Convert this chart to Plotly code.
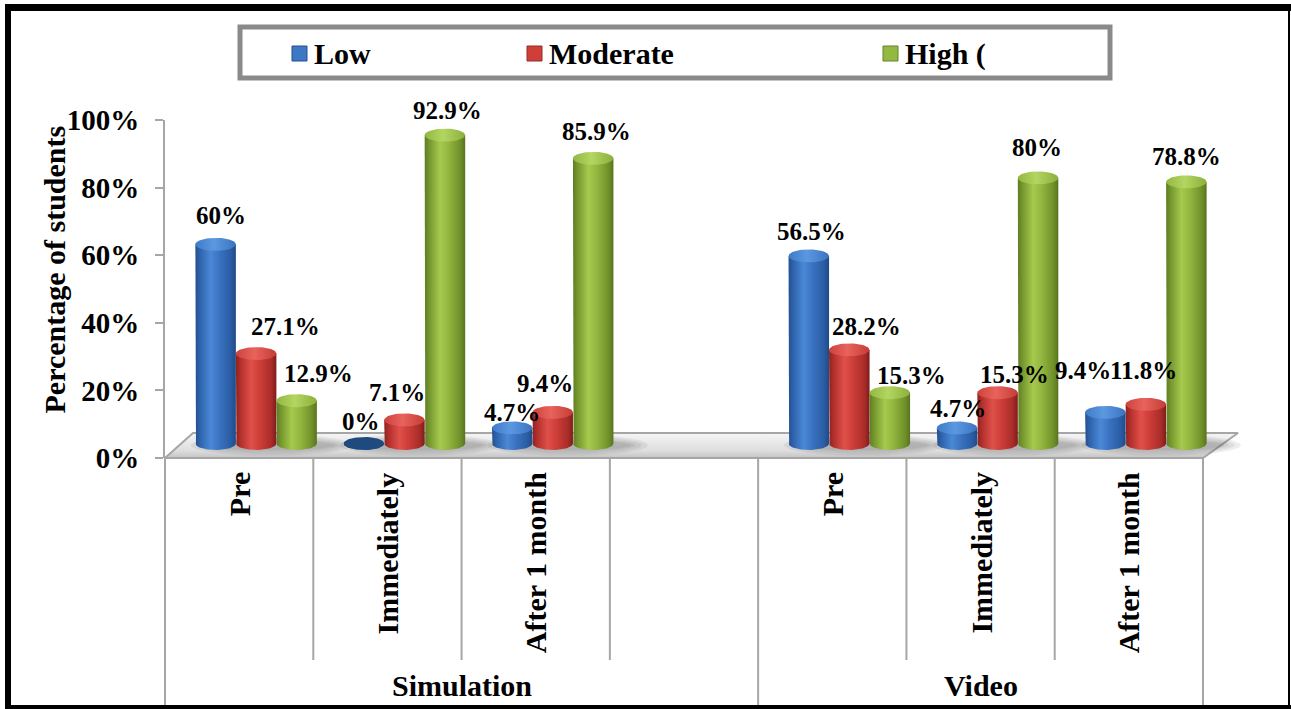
import numpy as np
import plotly.graph_objects as go

W, H = 1291, 709

# ---- data -------------------------------------------------------------
groups = ["Simulation", "Video"]
times = ["Pre", "Immediately", "After 1 month"]
series_names = ["Low", "Moderate", "High ("]
low = [60, 0, 4.7, 56.5, 4.7, 9.4]
moderate = [27.1, 7.1, 9.4, 28.2, 15.3, 11.8]
high = [12.9, 92.9, 85.9, 15.3, 80, 78.8]
y_ticks = [0, 20, 40, 60, 80, 100]
y_title = "Percentage of students"

# Simulation carries one empty category slot after its three time points
group_slots = {"Simulation": times + [""], "Video": times}
slots = [(g, t) for g in groups for t in group_slots[g]]
bar_slots = [i for i, (g, t) in enumerate(slots) if t]
n_slots = len(slots)

# ---- geometry (pixels) ------------------------------------------------
FRONT_X0, FRONT_X1 = 165, 1203          # front edge of the floor
SLOT = (FRONT_X1 - FRONT_X0) / n_slots
FRONT_Y0, FRONT_PER = 458, 3.38          # front plane: 0% row, px per %
BAR_X0, BAR_Y0, BAR_PER = 182, 443.5, 3.32  # plane the cylinders stand on
BAR_W = 40.5 / SLOT                      # cylinder width in slot units
ELL_B = 6.5 / BAR_PER                    # ellipse half height in %
FLOOR_BACK = 25 / FRONT_PER
FLOOR_DX_L, FLOOR_DX_R = 28 / SLOT, 35 / SLOT

FONT = "Liberation Serif, Times New Roman, serif"

body_scales = [
    [[0, "#23508f"], [0.12, "#2f64ad"], [0.38, "#4a88d6"], [0.6, "#3a72c0"], [0.88, "#2a5ca3"], [1, "#1f4a86"]],
    [[0, "#8e2220"], [0.12, "#b3302d"], [0.38, "#e0504a"], [0.6, "#cc3d38"], [0.88, "#a82c29"], [1, "#7e1c1a"]],
    [[0, "#5f7d23"], [0.12, "#76982e"], [0.38, "#a6c94e"], [0.6, "#91b53e"], [0.88, "#6f9029"], [1, "#587420"]],
]
top_scales = [
    [[0, "#3f7cc8"], [0.45, "#5c98e0"], [1, "#3a74c0"]],
    [[0, "#cf423d"], [0.45, "#e8635c"], [1, "#c63c37"]],
    [[0, "#93b842"], [0.45, "#b3d561"], [1, "#8cb03c"]],
]
flat_top = ["#1f4a7d", "#8e2220", "#5f7d23"]
legend_fill = ["#3d78c4", "#cf3f3a", "#94b940"]
legend_edge = ["#24508c", "#9a2a27", "#64832a"]

# pixel offsets of each value label from the top of its cylinder
label_dx = [[5, -3, 0, 3, 1, -22], [29, -7, -8, 17, 17, -2], [22, 3, 3, 22, -1, 0]]
label_dy = [[-29, -22, -15, -24, -19, -42], [-27, -27, -29, -23, -18, -34], [-27, -25, -27, -17, -30, -25]]


def px_x(p):
    return p / W


def px_y(p):
    return 1 - p / H


fig = go.Figure()

# ---- floor (front plane axes x/y) -------------------------------------
fig.add_trace(go.Scatter(
    x=[0, FLOOR_DX_L, n_slots + FLOOR_DX_R, n_slots, 0],
    y=[0, FLOOR_BACK, FLOOR_BACK, 0, 0],
    mode="lines", fill="toself",
    fillgradient=dict(type="vertical", colorscale=[[0, "#c4c4c4"], [0.3, "#dedede"], [1, "#f5f5f5"]]),
    line=dict(color="#a6a6a6", width=2),
    hoverinfo="skip", showlegend=False,
))

# category dividers below the floor
div_x, div_y = [], []
for u in range(n_slots + 1):
    if 0 < u < n_slots:
        boundary = slots[u - 1][0] != slots[u][0]
    else:
        boundary = True
    bottom = (FRONT_Y0 - (H + 5)) / FRONT_PER if boundary else (FRONT_Y0 - 660) / FRONT_PER
    div_x += [u, u, None]
    div_y += [0, bottom, None]
fig.add_trace(go.Scatter(x=div_x, y=div_y, mode="lines",
                         line=dict(color="#a6a6a6", width=2),
                         hoverinfo="skip", showlegend=False))

# ---- cylinders (bar plane axes x2/y2) ---------------------------------
values = [low, moderate, high]

# soft shadows on the floor around each group of cylinders
for s in bar_slots:
    cx = s + 0.5 + 0.1
    for ax, bx in [(0.54, 3.2), (0.5, 2.6), (0.46, 2.0), (0.43, 1.5)]:
        t = np.linspace(0, 2 * np.pi, 60)
        fig.add_trace(go.Scatter(
            x=cx + ax * np.cos(t), y=-0.5 + bx * np.sin(t),
            mode="lines", fill="toself", fillcolor="rgba(90,90,90,0.10)",
            line=dict(width=0), xaxis="x2", yaxis="y2",
            hoverinfo="skip", showlegend=False))

for si, vals in enumerate(values):
    for j, v in enumerate(vals):
        s = bar_slots[j]
        cx = s + 0.5 + (si - 1) * BAR_W
        a = BAR_W / 2
        t = np.linspace(np.pi, 2 * np.pi, 40)
        bx = [cx - a, *(cx + a * np.cos(t)), cx + a, cx - a]
        by = [v, *(ELL_B * np.sin(t)), v, v]
        fig.add_trace(go.Scatter(
            x=bx, y=by, mode="lines", fill="toself",
            fillgradient=dict(type="horizontal", colorscale=body_scales[si]),
            line=dict(width=0), xaxis="x2", yaxis="y2",
            hoverinfo="skip", showlegend=False))
        tt = np.linspace(0, 2 * np.pi, 60)
        top = dict(fillcolor=flat_top[si]) if v == 0 else dict(
            fillgradient=dict(type="horizontal", colorscale=top_scales[si]))
        fig.add_trace(go.Scatter(
            x=cx + a * np.cos(tt), y=v + ELL_B * np.sin(tt),
            mode="lines", fill="toself", line=dict(width=0),
            xaxis="x2", yaxis="y2", hoverinfo="skip", showlegend=False, **top))
        fig.add_annotation(
            x=cx, y=v, xref="x2", yref="y2",
            xshift=label_dx[si][j], yshift=-label_dy[si][j],
            text=f"{v:g}%", showarrow=False, xanchor="center", yanchor="middle",
            font=dict(family=FONT, size=25, color="black", weight="bold"))

# ---- value axis (x3/y3) -----------------------------------------------
fig.add_trace(go.Scatter(x=[0.5], y=[50], mode="markers", marker=dict(opacity=0),
                         xaxis="x3", yaxis="y3", hoverinfo="skip", showlegend=False))

# ---- category labels --------------------------------------------------
for u, (g, t) in enumerate(slots):
    if not t:
        continue
    fig.add_annotation(
        x=u + 0.5, y=(FRONT_Y0 - 470) / FRONT_PER, xref="x", yref="y",
        text=t, textangle=-90, showarrow=False, xanchor="center", yanchor="top",
        font=dict(family=FONT, size=30, color="black", weight="bold"))

start = 0
for g in groups:
    n = len(group_slots[g])
    fig.add_annotation(
        x=start + n / 2, y=(FRONT_Y0 - 685) / FRONT_PER, xref="x", yref="y",
        text=g, showarrow=False, xanchor="center", yanchor="middle",
        font=dict(family=FONT, size=30, color="black", weight="bold"))
    start += n

fig.add_annotation(
    x=px_x(35), y=px_y(270), xref="paper", yref="paper",
    text=y_title, textangle=-90, showarrow=False,
    font=dict(family=FONT, size=30, color="black", weight="bold"))

# ---- legend -----------------------------------------------------------
shapes = [dict(type="rect", xref="paper", yref="paper",
               x0=px_x(240), x1=px_x(1110), y0=px_y(78), y1=px_y(27),
               line=dict(color="#8a8a8a", width=5), fillcolor="white")]
legend_marker_x = [292, 527, 883]
for i, name in enumerate(series_names):
    mx = legend_marker_x[i]
    shapes.append(dict(type="rect", xref="paper", yref="paper",
                       x0=px_x(mx), x1=px_x(mx + 15), y0=px_y(61), y1=px_y(46),
                       line=dict(color=legend_edge[i], width=1), fillcolor=legend_fill[i]))
    fig.add_annotation(
        x=px_x(mx + 20), y=px_y(54), xref="paper", yref="paper",
        text=name, showarrow=False, xanchor="left", yanchor="middle",
        font=dict(family=FONT, size=30, color="black", weight="bold"))

# ---- outer frame ------------------------------------------------------
for x0, x1, y0, y1 in [(5, 11, 4, H), (5, W, 4, 11), (1288, 1290, 4, H), (5, W, 705, H)]:
    shapes.append(dict(type="rect", xref="paper", yref="paper", layer="above",
                       x0=px_x(x0), x1=px_x(x1), y0=px_y(y1), y1=px_y(y0),
                       line=dict(width=0), fillcolor="black"))


def axis_range(origin_px, per, size):
    return [-origin_px / per, (size - origin_px) / per]


def y_axis_range(origin_px, per):
    return [(origin_px - H) / per, origin_px / per]


hidden = dict(visible=False, showgrid=False, zeroline=False, fixedrange=True, automargin=False)
fig.update_layout(
    width=W, height=H,
    margin=dict(l=0, r=0, t=0, b=0, pad=0, autoexpand=False),
    paper_bgcolor="white", plot_bgcolor="rgba(0,0,0,0)",
    showlegend=False,
    shapes=shapes,
    xaxis=dict(domain=[0, 1], range=axis_range(FRONT_X0, SLOT, W), **hidden),
    yaxis=dict(domain=[0, 1], range=y_axis_range(FRONT_Y0, FRONT_PER), **hidden),
    xaxis2=dict(overlaying="x", range=axis_range(BAR_X0, SLOT, W), **hidden),
    yaxis2=dict(overlaying="y", range=y_axis_range(BAR_Y0, BAR_PER), **hidden),
    xaxis3=dict(domain=[px_x(FRONT_X0), px_x(FRONT_X1)], range=[0, 1], anchor="y3", **hidden),
    yaxis3=dict(
        domain=[px_y(FRONT_Y0), px_y(FRONT_Y0 - 100 * FRONT_PER)], range=[0, 100],
        anchor="x3", showline=True, linecolor="#a6a6a6", linewidth=2,
        ticks="outside", ticklen=8, tickwidth=2, tickcolor="#a6a6a6",
        tickvals=y_ticks, ticktext=[f"{t}%" for t in y_ticks],
        tickfont=dict(family=FONT, size=29, color="black", weight="bold"),
        ticklabelstandoff=10, showgrid=False, zeroline=False, fixedrange=True,
        automargin=False),
)

fig.write_html(
    "out.html",
    config={"displayModeBar": False},
    post_script="document.body.style.margin='0';document.body.style.overflow='hidden';",
)
